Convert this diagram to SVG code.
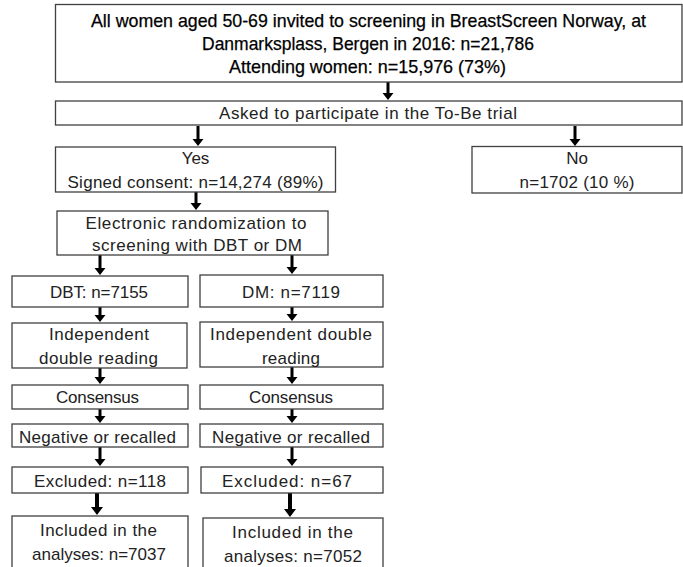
<svg xmlns="http://www.w3.org/2000/svg" width="683" height="567" viewBox="0 0 683 567">
<style>
.box{fill:#fff;stroke:#404040;stroke-width:1.3}
text{font-family:"Liberation Sans",Arial,sans-serif;font-size:17px;fill:#222;text-anchor:middle}
.top{font-size:18.5px;fill:#000;stroke:#000;stroke-width:0.25}
.arr{stroke:#000;stroke-width:3;fill:none;marker-end:url(#ah)}
.arr2{stroke:#000;stroke-width:4;fill:none;marker-end:url(#ah2)}
</style>
<defs>
<marker id="ah" markerUnits="userSpaceOnUse" markerWidth="12" markerHeight="12" viewBox="0 -6 8 12" refX="0" refY="0" orient="auto"><path d="M0,-5.5 L7,0 L0,5.5 z" fill="#000"/></marker>
<marker id="ah2" markerUnits="userSpaceOnUse" markerWidth="12" markerHeight="14" viewBox="0 -7 9 14" refX="0" refY="0" orient="auto"><path d="M0,-6 L8,0 L0,6 z" fill="#000"/></marker>
</defs>
<rect width="683" height="567" fill="#fff"/>
<g id="connectors">
<line class="arr" x1="388" y1="82" x2="388" y2="93"/>
<line class="arr" x1="198" y1="126" x2="198" y2="139"/>
<line class="arr" x1="575" y1="126" x2="575" y2="139"/>
<line class="arr" x1="196" y1="192" x2="196" y2="203"/>
<line class="arr" x1="100" y1="255" x2="100" y2="268"/>
<line class="arr" x1="292" y1="255" x2="292" y2="267"/>
<line class="arr" x1="100" y1="307" x2="100" y2="315"/>
<line class="arr" x1="292" y1="307" x2="292" y2="314"/>
<line class="arr" x1="100" y1="368" x2="100" y2="377"/>
<line class="arr" x1="292" y1="367" x2="292" y2="377"/>
<line class="arr" x1="100" y1="409" x2="100" y2="416"/>
<line class="arr" x1="292" y1="409" x2="292" y2="416"/>
<line class="arr" x1="100" y1="447" x2="100" y2="459"/>
<line class="arr" x1="292" y1="447" x2="292" y2="459"/>
<line class="arr2" x1="97" y1="493" x2="97" y2="507"/>
<line class="arr2" x1="290" y1="493" x2="290" y2="509"/>
</g>
<g id="n_top"><rect class="box" x="55.5" y="4.5" width="626.5" height="77.5"/>
<text class="top" x="368.5" y="27" textLength="555" lengthAdjust="spacingAndGlyphs">All women aged 50-69 invited to screening in BreastScreen Norway, at</text>
<text class="top" x="368" y="50" textLength="332" lengthAdjust="spacingAndGlyphs">Danmarksplass, Bergen in 2016: n=21,786</text>
<text class="top" x="367.5" y="73" textLength="277" lengthAdjust="spacingAndGlyphs">Attending women: n=15,976 (73%)</text></g>
<g id="n_asked"><rect class="box" x="55.5" y="101" width="626.5" height="24"/>
<text x="368" y="118.5" textLength="298" lengthAdjust="spacing">Asked to participate in the To-Be trial</text></g>
<g id="n_yes"><rect class="box" x="55.5" y="147" width="280" height="45"/>
<text x="195.5" y="164">Yes</text>
<text x="195.5" y="188" textLength="256" lengthAdjust="spacing">Signed consent: n=14,274 (89%)</text></g>
<g id="n_no"><rect class="box" x="472" y="146.5" width="210" height="46.5"/>
<text x="577" y="164">No</text>
<text x="577" y="188" textLength="115" lengthAdjust="spacing">n=1702 (10 %)</text></g>
<g id="n_rand"><rect class="box" x="57" y="211" width="271" height="44"/>
<text x="196" y="229" textLength="221" lengthAdjust="spacing">Electronic randomization to</text>
<text x="197" y="251" textLength="210" lengthAdjust="spacing">screening with DBT or DM</text></g>
<g id="n_dbt"><rect class="box" x="12" y="276" width="176" height="31"/>
<text x="99" y="297.5" textLength="98" lengthAdjust="spacing">DBT: n=7155</text></g>
<g id="n_dm"><rect class="box" x="200" y="275" width="183" height="32"/>
<text x="291" y="297.5" textLength="98" lengthAdjust="spacing">DM: n=7119</text></g>
<g id="n_read_l"><rect class="box" x="12" y="323" width="175" height="45"/>
<text x="99" y="340" textLength="100" lengthAdjust="spacing">Independent</text>
<text x="98.5" y="364" textLength="119" lengthAdjust="spacing">double reading</text></g>
<g id="n_read_r"><rect class="box" x="200" y="322" width="183" height="45"/>
<text x="291" y="340" textLength="162" lengthAdjust="spacing">Independent double</text>
<text x="291" y="364" textLength="58" lengthAdjust="spacing">reading</text></g>
<g id="n_cons_l"><rect class="box" x="12" y="385" width="176" height="24"/>
<text x="97.5" y="403" textLength="83" lengthAdjust="spacing">Consensus</text></g>
<g id="n_cons_r"><rect class="box" x="200" y="385" width="183" height="24"/>
<text x="291" y="403" textLength="84" lengthAdjust="spacing">Consensus</text></g>
<g id="n_neg_l"><rect class="box" x="12" y="424" width="176" height="23"/>
<text x="97.5" y="442.5" textLength="157" lengthAdjust="spacing">Negative or recalled</text></g>
<g id="n_neg_r"><rect class="box" x="200" y="424" width="183" height="23"/>
<text x="291" y="442.5" textLength="158" lengthAdjust="spacing">Negative or recalled</text></g>
<g id="n_exc_l"><rect class="box" x="12" y="467" width="176" height="26"/>
<text x="100" y="486.5" textLength="132" lengthAdjust="spacing">Excluded: n=118</text></g>
<g id="n_exc_r"><rect class="box" x="201" y="467" width="182" height="26"/>
<text x="287" y="486.5" textLength="130" lengthAdjust="spacing">Excluded: n=67</text></g>
<g id="n_inc_l"><rect class="box" x="12" y="516" width="176" height="60"/>
<text x="98.5" y="535.5" textLength="117" lengthAdjust="spacing">Included in the</text>
<text x="99" y="560" textLength="134" lengthAdjust="spacing">analyses: n=7037</text></g>
<g id="n_inc_r"><rect class="box" x="203" y="518" width="180" height="60"/>
<text x="292.5" y="538" textLength="121" lengthAdjust="spacing">Included in the</text>
<text x="293" y="562" textLength="138" lengthAdjust="spacing">analyses: n=7052</text></g>
</svg>
